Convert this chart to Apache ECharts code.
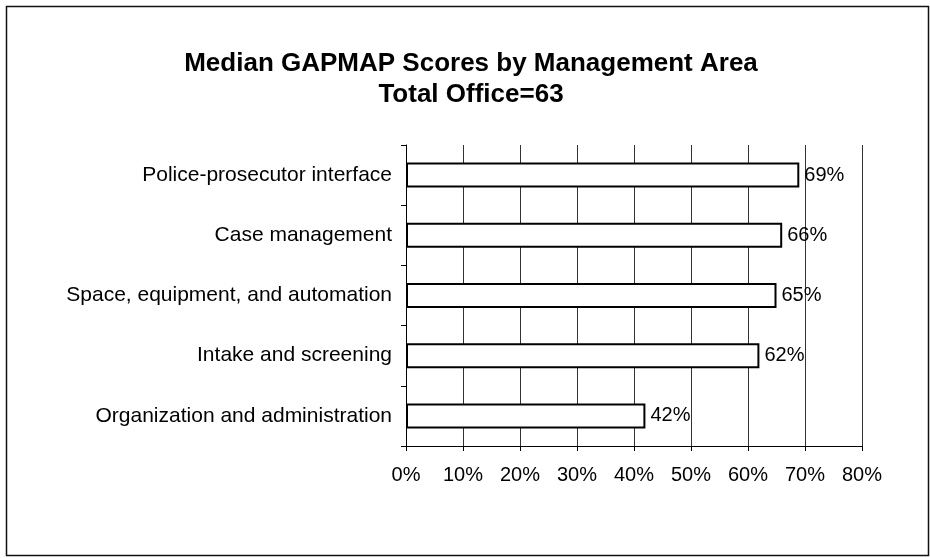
<!DOCTYPE html>
<html>
<head>
<meta charset="utf-8">
<script src="https://cdn.jsdelivr.net/npm/echarts@6/dist/echarts.min.js"></script>
<style>
html,body{margin:0;padding:0;background:#fff;}
#chart{width:930px;height:558px;}
</style>
</head>
<body>
<div id="chart"></div>
<script>
const titleLines = ['Median GAPMAP Scores by Management Area', 'Total Office=63'];
const categories = ['Organization and administration', 'Intake and screening', 'Space, equipment, and automation', 'Case management', 'Police-prosecutor interface'];
const values = [42, 62, 65, 66, 69];
const xTicks = [0, 10, 20, 30, 40, 50, 60, 70, 80];

const chart = echarts.init(document.getElementById('chart'));
const font = 'Liberation Sans, Arial, sans-serif';
chart.setOption({
  animation: false,
  backgroundColor: '#fff',
  graphic: [{
    type: 'rect',
    shape: { x: 6.5, y: 6.5, width: 922, height: 549 },
    style: { fill: 'none', stroke: '#111', lineWidth: 1.5 },
    silent: true
  }],
  title: {
    text: titleLines.join('\n'),
    left: 466, top: 43, textAlign: 'center',
    textStyle: { fontFamily: font, fontSize: 26, fontWeight: 'bold', color: '#000', lineHeight: 31 }
  },
  grid: { left: 406, right: 68, top: 145, bottom: 112, containLabel: false },
  xAxis: {
    type: 'value', min: 0, max: 80, interval: 10,
    axisLine: { show: true, lineStyle: { color: '#000', width: 1 } },
    axisTick: { show: true, length: 5, lineStyle: { color: '#000' } },
    axisLabel: { fontFamily: font, fontSize: 20, color: '#000', margin: 19, formatter: v => v + '%' },
    splitLine: { show: true, lineStyle: { color: '#333', width: 1 } }
  },
  yAxis: {
    type: 'category', data: categories,
    axisLine: { show: true, lineStyle: { color: '#000', width: 1 } },
    axisTick: { show: true, length: 5, lineStyle: { color: '#000' } },
    axisLabel: { fontFamily: font, fontSize: 21, color: '#000', margin: 14 },
    splitLine: { show: false }
  },
  series: [{
    type: 'bar', data: values, barWidth: 25,
    itemStyle: { color: '#fff', borderColor: '#000', borderWidth: 2 },
    label: { show: true, position: 'right', distance: 5, fontFamily: font, fontSize: 20, color: '#000', formatter: p => p.value + '%' }
  }]
});
</script>
</body>
</html>
